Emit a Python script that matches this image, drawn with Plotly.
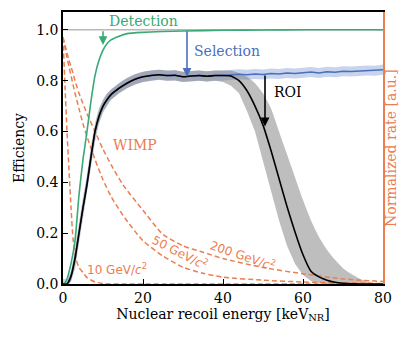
import plotly.graph_objects as go

# energy grid shared by the efficiency curves
energy = [0, 1, 2, 3, 4, 5, 6, 7, 8, 9, 10, 11, 12, 14, 16, 18, 20, 22, 24, 26, 28,
          30, 32, 34, 36, 38, 40, 42, 44, 46, 48, 50, 52, 54, 56, 58, 60, 62, 64,
          66, 68, 70, 72, 74, 76, 78, 80]

roi_eff = [0, 0, 0.03, 0.1, 0.2, 0.3, 0.39, 0.5, 0.6, 0.66, 0.7, 0.725, 0.745, 0.77,
           0.79, 0.805, 0.815, 0.82, 0.823, 0.82, 0.821, 0.815, 0.818, 0.82, 0.817,
           0.82, 0.82, 0.818, 0.8, 0.76, 0.7, 0.625, 0.525, 0.415, 0.305, 0.205, 0.115,
           0.05, 0.028, 0.015, 0.007, 0.003, 0.001, 0, 0, 0, 0]
roi_hi = [0, 0.005, 0.05, 0.14, 0.24, 0.34, 0.43, 0.54, 0.63, 0.69, 0.725, 0.75, 0.765,
          0.79, 0.81, 0.825, 0.835, 0.84, 0.843, 0.84, 0.841, 0.835, 0.838, 0.84, 0.837,
          0.84, 0.84, 0.84, 0.83, 0.815, 0.79, 0.75, 0.69, 0.6, 0.51, 0.42, 0.33, 0.25,
          0.185, 0.135, 0.095, 0.062, 0.04, 0.022, 0.01, 0.003, 0]
roi_lo = [0, 0, 0.01, 0.06, 0.16, 0.26, 0.35, 0.46, 0.56, 0.63, 0.675, 0.7, 0.725, 0.75,
          0.77, 0.785, 0.795, 0.8, 0.803, 0.8, 0.801, 0.795, 0.798, 0.8, 0.797, 0.8,
          0.795, 0.78, 0.75, 0.68, 0.6, 0.48, 0.36, 0.25, 0.15, 0.08, 0.035, 0.012,
          0.003, 0, 0, 0, 0, 0, 0, 0, 0]

sel_eff = [0, 0, 0.03, 0.1, 0.2, 0.3, 0.39, 0.5, 0.6, 0.66, 0.7, 0.725, 0.745, 0.77,
           0.79, 0.805, 0.815, 0.82, 0.823, 0.82, 0.821, 0.815, 0.818, 0.82, 0.817,
           0.82, 0.82, 0.822, 0.825, 0.823, 0.826, 0.824, 0.828, 0.826, 0.83, 0.828,
           0.831, 0.834, 0.83, 0.835, 0.833, 0.837, 0.836, 0.838, 0.84, 0.839, 0.843]
sel_err = 0.02

det_energy = [0, 0.5, 1, 2, 3, 4, 5, 6, 7, 8, 9, 10, 11, 12, 14, 16, 20, 25, 30, 40,
              50, 60, 80]
det_eff = [0, 0.005, 0.02, 0.08, 0.17, 0.35, 0.49, 0.6, 0.72, 0.82, 0.88, 0.92, 0.945,
           0.96, 0.975, 0.985, 0.99, 0.993, 0.995, 0.998, 0.999, 1.0, 1.0]

# WIMP recoil spectra (normalized rate)
wimp_energy = [0, 0.5, 1, 1.5, 2, 2.5, 3, 3.5, 4, 5, 6, 8, 10, 12, 15, 20, 25, 30,
               35, 40, 50, 60, 70, 80]
wimp_10 = [0.97, 0.78, 0.6, 0.45, 0.3, 0.18, 0.12, 0.085, 0.065, 0.045, 0.025, 0.008,
           0.002, 0, 0, 0, 0, 0, 0, 0, 0, 0, 0, 0]
wimp_50 = [0.97, 0.93, 0.89, 0.855, 0.82, 0.785, 0.75, 0.72, 0.69, 0.63, 0.58, 0.49,
           0.41, 0.345, 0.27, 0.17, 0.11, 0.066, 0.042, 0.027, 0.015, 0.008, 0.004, 0.002]
wimp_200 = [0.97, 0.94, 0.91, 0.88, 0.855, 0.83, 0.8, 0.775, 0.75, 0.71, 0.67, 0.6,
            0.53, 0.47, 0.39, 0.29, 0.195, 0.15, 0.125, 0.1, 0.065, 0.04, 0.02, 0.01]

GREEN = '#3aa877'
BLUE = '#4a6fbe'
ORANGE = '#ec7d4f'
SERIF = 'DejaVu Serif'

fig = go.Figure()

# selection band
fig.add_trace(go.Scatter(x=energy, y=[v - sel_err for v in sel_eff], mode='lines',
                         line=dict(width=0), showlegend=False, hoverinfo='skip'))
fig.add_trace(go.Scatter(x=energy, y=[v + sel_err for v in sel_eff], mode='lines',
                         line=dict(width=0), fill='tonexty',
                         fillcolor='rgba(74,111,190,0.3)', showlegend=False,
                         hoverinfo='skip'))
# ROI band
fig.add_trace(go.Scatter(x=energy, y=roi_lo, mode='lines', line=dict(width=0),
                         showlegend=False, hoverinfo='skip'))
fig.add_trace(go.Scatter(x=energy, y=roi_hi, mode='lines',
                         line=dict(width=0, shape='spline', smoothing=0.5),
                         fill='tonexty', fillcolor='rgba(120,120,120,0.48)',
                         showlegend=False, hoverinfo='skip'))

# reference line at 1
fig.add_trace(go.Scatter(x=[0, 80], y=[1, 1], mode='lines',
                         line=dict(color='#b8b8b8', width=1.5), showlegend=False))

# WIMP spectra
for rate in (wimp_10, wimp_50, wimp_200):
    fig.add_trace(go.Scatter(x=wimp_energy, y=rate, mode='lines',
                             line=dict(color=ORANGE, width=1.5, dash='5px,3px',
                                       shape='spline', smoothing=0.6),
                             showlegend=False))

fig.add_trace(go.Scatter(x=det_energy, y=det_eff, mode='lines',
                         line=dict(color=GREEN, width=1.6, shape='spline', smoothing=0.6),
                         name='Detection', showlegend=False))
fig.add_trace(go.Scatter(x=energy, y=sel_eff, mode='lines',
                         line=dict(color=BLUE, width=1.4), name='Selection',
                         showlegend=False))
fig.add_trace(go.Scatter(x=energy, y=roi_eff, mode='lines',
                         line=dict(color='black', width=1.6, shape='spline', smoothing=0.5),
                         name='ROI', showlegend=False))

# arrows
def arrow(x, y0, y1, color):
    fig.add_annotation(x=x, y=y1, ax=x, ay=y0, xref='x', yref='y', axref='x', ayref='y',
                       text='', showarrow=True, arrowhead=2, arrowsize=1.1,
                       arrowwidth=1.6, arrowcolor=color, standoff=0)

arrow(10, 1.0, 0.94, GREEN)
arrow(31, 1.0, 0.815, BLUE)
arrow(50.5, 0.826, 0.62, 'black')

labels = [
    dict(x=20, y=1.035, text='Detection', color=GREEN, anchor='center', angle=0, fam=SERIF, size=14),
    dict(x=32.3, y=0.918, text='Selection', color=BLUE, anchor='left', angle=0, fam=SERIF, size=14),
    dict(x=52.2, y=0.755, text='ROI', color='black', anchor='left', angle=0, fam=SERIF, size=14),
    dict(x=18, y=0.548, text='WIMP', color=ORANGE, anchor='center', angle=0, fam=SERIF, size=14),
    dict(x=13.5, y=0.058, text='10 GeV/<i>c</i><sup>2</sup>', color=ORANGE, anchor='center',
         angle=0, fam='DejaVu Sans', size=12),
    dict(x=29.3, y=0.125, text='50 GeV/<i>c</i><sup>2</sup>', color=ORANGE, anchor='center',
         angle=27, fam='DejaVu Sans', size=12),
    dict(x=45, y=0.115, text='200 GeV/<i>c</i><sup>2</sup>', color=ORANGE, anchor='center',
         angle=19, fam='DejaVu Sans', size=12),
]
for lb in labels:
    fig.add_annotation(x=lb['x'], y=lb['y'], text=lb['text'], showarrow=False,
                       xanchor=lb['anchor'], yanchor='middle', textangle=lb['angle'],
                       font=dict(family=lb['fam'], size=lb['size'], color=lb['color']))

fig.add_annotation(x=1, y=0.5, xref='paper', yref='paper', xshift=18,
                   text='Normalized rate [a.u.]', textangle=-90, showarrow=False,
                   font=dict(family=SERIF, size=14, color=ORANGE))

fig.update_layout(
    width=416, height=338,
    margin=dict(l=63, r=33, t=12, b=54, autoexpand=False),
    plot_bgcolor='white', paper_bgcolor='white',
    font=dict(family=SERIF, size=14, color='black'),
    xaxis=dict(range=[0, 80], tickvals=[0, 20, 40, 60, 80], ticks='inside', ticklen=5,
               tickwidth=1.2, tickcolor='black', showline=True, linecolor='black',
               linewidth=1.5, mirror=True, showgrid=False, zeroline=False,
               tickfont=dict(family=SERIF, size=14),
               title=dict(text='Nuclear recoil energy [keV<sub>NR</sub>]', standoff=4,
                          font=dict(family=SERIF, size=14))),
    yaxis=dict(range=[0, 1.07], tickvals=[0, 0.2, 0.4, 0.6, 0.8, 1.0], tickformat='.1f',
               ticks='inside', ticklen=5, tickwidth=1.2, tickcolor='black',
               showline=True, linecolor='black', linewidth=1.5, showgrid=False,
               zeroline=False, tickfont=dict(family=SERIF, size=14),
               title=dict(text='Efficiency', standoff=8, font=dict(family=SERIF, size=14))),
    yaxis2=dict(range=[0, 1.07], overlaying='y', side='right', showline=True,
                linecolor=ORANGE, linewidth=1.5, showticklabels=False, ticks='',
                showgrid=False, zeroline=False),
)
# dummy trace so the right axis is drawn
fig.add_trace(go.Scatter(x=[0], y=[0], yaxis='y2', mode='markers',
                         marker=dict(opacity=0), showlegend=False, hoverinfo='skip'))

fig.write_html("out.html", config={'displayModeBar': False},
               post_script="document.body.style.margin='0';")
